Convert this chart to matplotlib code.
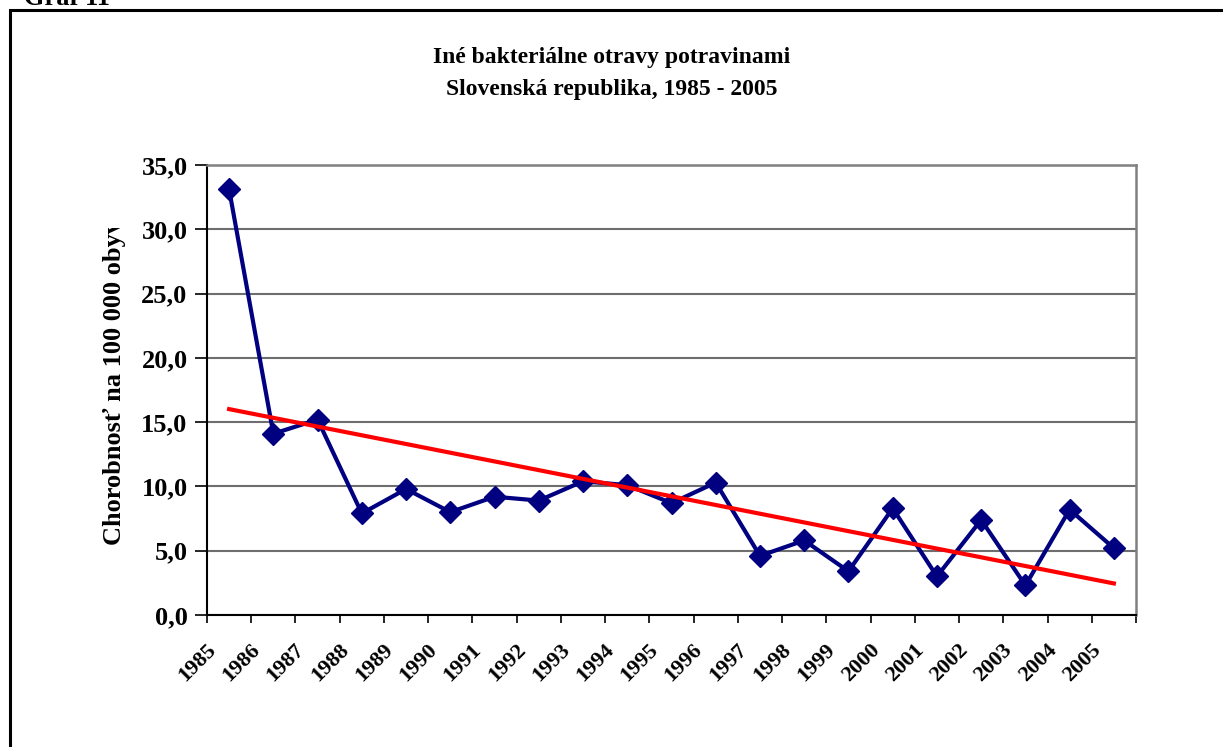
import numpy as np
import matplotlib
matplotlib.use("Agg")
import matplotlib.pyplot as plt
from matplotlib.patches import Rectangle
from matplotlib.transforms import ScaledTranslation, Bbox, TransformedBbox

years = [str(y) for y in range(1985, 2006)]
rates = [33.1, 14.1, 15.2, 7.9, 9.8, 8.0, 9.2, 8.9, 10.4, 10.1, 8.7,
         10.3, 4.6, 5.8, 3.4, 8.3, 3.0, 7.4, 2.3, 8.2, 5.2]
y_ticks = [0, 5, 10, 15, 20, 25, 30, 35]
y_tick_labels = ["0,0", "5,0", "10,0", "15,0", "20,0", "25,0", "30,0", "35,0"]

title_1 = "Iné bakteriálne otravy potravinami"
title_2 = "Slovenská republika, 1985 - 2005"
y_title = "Chorobnosť na 100 000 obyv."

W, H = 1223, 747
DPI = 100
SERIF = ["Liberation Serif", "DejaVu Serif"]

fig = plt.figure(figsize=(W / DPI, H / DPI), dpi=DPI)
fig.patch.set_facecolor("white")

def fx(px):
    return px / W

def fy(py):
    return 1 - py / H

# chart frame
fig.patches.append(Rectangle((fx(9.5), fy(H + 20)), fx(W + 40), (H + 10) / H,
                             transform=fig.transFigure, fill=False,
                             edgecolor="black", linewidth=2.2))
fig.text(fx(24), fy(5), "Graf 11", family=SERIF, fontweight="bold",
         fontsize=19, ha="left", va="baseline")

ax = fig.add_axes([fx(207), fy(615), fx(1136) - fx(207), fy(165) - fy(615)])
x = np.arange(len(years))

ax.set_xlim(-0.5, len(years) - 0.5)
ax.set_ylim(0, 35)

ax.set_yticks(y_ticks)
ax.set_yticklabels(y_tick_labels, family=SERIF, fontweight="bold", fontsize=19)
ax.tick_params(axis="y", direction="out", length=9, width=1.2, pad=5, color="black")
ax.grid(axis="y", color="#6e6e6e", linewidth=1.5)
ax.set_axisbelow(True)

ax.set_xticks(x)
ax.set_xticklabels(years, family=SERIF, fontweight="bold", fontsize=16,
                   rotation=45, ha="right", va="top")
ax.set_xticks(np.arange(-0.5, len(years), 1.0), minor=True)
ax.tick_params(axis="x", which="major", length=0, pad=18)
ax.tick_params(axis="x", which="minor", direction="out", length=6, width=1.2)
shift = ScaledTranslation(-9 / DPI, 0, fig.dpi_scale_trans)
for lbl in ax.get_xticklabels():
    lbl.set_transform(lbl.get_transform() + shift)

for side in ("left", "bottom"):
    ax.spines[side].set_color("black")
    ax.spines[side].set_linewidth(1.5)
for side in ("top", "right"):
    ax.spines[side].set_color("#808080")
    ax.spines[side].set_linewidth(1.8)

ax.plot(x, rates, color="#000080", linewidth=3, marker="D", markersize=11,
        markerfacecolor="#000080", markeredgecolor="#000080", zorder=3,
        clip_on=False)

# linear trend
coef = np.polyfit(x, rates, 1)
ax.plot(x, np.polyval(coef, x), color="#ff0000", linewidth=3, zorder=4)

fig.text(fx(612), fy(63), title_1, family=SERIF, fontweight="bold",
         fontsize=17, ha="center", va="baseline")
fig.text(fx(612), fy(95), title_2, family=SERIF, fontweight="bold",
         fontsize=17, ha="center", va="baseline")

yl = fig.text(fx(115), fy(545), y_title, family=SERIF, fontweight="bold",
              fontsize=19, rotation=90, ha="center", va="bottom")
yl.set_clip_box(TransformedBbox(Bbox([[0, fy(560)], [1, fy(228)]]),
                                fig.transFigure))
yl.set_clip_on(True)

fig.savefig("out.png", dpi=DPI)
